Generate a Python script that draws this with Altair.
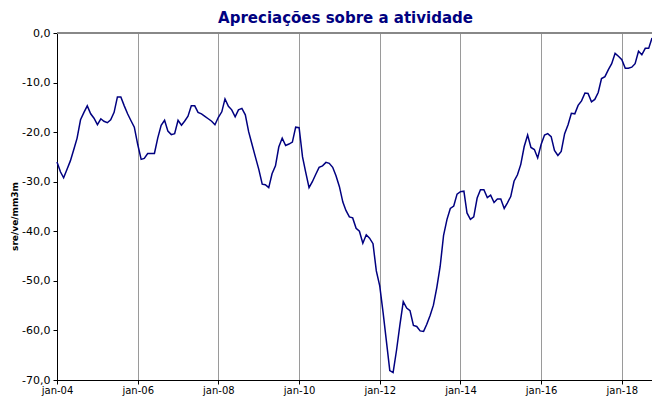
import altair as alt
import pandas as pd

# Monthly values, jan-2004 onwards (sre/ve/mm3m)
values = [
    -26.0, -28.0, -29.2, -27.5, -25.8, -23.5, -21.2, -17.5, -16.0, -14.7, -16.3, -17.2,   # 2004
    -18.5, -17.3, -17.8, -18.1, -17.5, -16.0, -12.9, -12.9, -14.7, -16.3, -17.7, -19.0,   # 2005
    -22.5, -25.5, -25.3, -24.3, -24.3, -24.3, -21.2, -18.6, -17.6, -19.8, -20.5, -20.3,   # 2006
    -17.6, -18.6, -17.8, -16.8, -14.7, -14.7, -16.0, -16.3, -16.8, -17.3, -17.8, -18.5,   # 2007
    -17.0, -15.9, -13.3, -14.8, -15.5, -16.9, -15.5, -15.2, -16.5, -19.9, -22.5, -25.0,   # 2008
    -27.5, -30.5, -30.6, -31.2, -28.4, -26.8, -23.0, -21.2, -22.7, -22.4, -22.0, -19.0,   # 2009
    -19.1, -25.0, -28.0, -31.2, -30.0, -28.5, -27.1, -26.8, -26.1, -26.3, -27.1, -28.8,   # 2010
    -31.0, -34.1, -35.8, -37.1, -37.3, -39.4, -40.0, -42.4, -40.7, -41.4, -42.5, -48.0,   # 2011
    -51.0, -56.5, -62.1, -68.1, -68.5, -64.0, -59.0, -54.2, -55.5, -56.0, -59.0, -59.2,   # 2012
    -60.1, -60.2, -58.8, -57.0, -54.9, -51.3, -47.1, -40.8, -37.6, -35.4, -34.9, -32.5,   # 2013
    -32.0, -31.9, -36.3, -37.6, -37.1, -33.3, -31.6, -31.6, -33.2, -32.7, -34.2, -33.5,   # 2014
    -33.5, -35.4, -34.3, -33.0, -29.9, -28.6, -26.5, -22.9, -20.6, -23.1, -23.5, -25.2,   # 2015
    -22.5, -20.6, -20.3, -20.9, -23.7, -24.7, -23.9, -20.3, -18.5, -16.2, -16.3, -14.6,   # 2016
    -13.7, -12.1, -12.2, -13.9, -13.4, -12.0, -9.2, -8.8, -7.4, -6.2, -4.1, -4.7,         # 2017
    -5.4, -7.1, -7.1, -6.9, -6.2, -3.7, -4.4, -3.1, -3.1, -1.0,                           # 2018
]
dates = pd.date_range("2004-01-01", periods=len(values), freq="MS").strftime("%Y-%m-%d").tolist()
tick_years = [2004, 2006, 2008, 2010, 2012, 2014, 2016, 2018]
y_ticks = [0, -10, -20, -30, -40, -50, -60, -70]

df = pd.DataFrame({"data": dates, "valor": values})

W, H = 595, 347

x_enc = alt.X(
    "data:T",
    scale=alt.Scale(domain=[dates[0], dates[-1]]),
    axis=alt.Axis(
        title=None,
        values=[alt.DateTime(year=y, month=1, date=1) for y in tick_years],
        labelExpr="'jan-' + timeFormat(datum.value, '%y')",
        grid=True,
        gridColor="#9a9a9a",
        gridWidth=1,
        domainColor="#000000",
        domainWidth=1,
        tickColor="#000000",
        tickSize=4,
        labelFont="DejaVu Sans",
        labelFontSize=10,
        labelColor="#000000",
        labelPadding=1,
        labelFlush=False,
        labelOverlap=False,
    ),
)

y_enc = alt.Y(
    "valor:Q",
    scale=alt.Scale(domain=[-70, 0], nice=False, zero=False),
    axis=alt.Axis(
        title="sre/ve/mm3m",
        titleFont="DejaVu Sans",
        titleFontSize=9,
        titleFontWeight="bold",
        titleColor="#000000",
        titleX=-43,
        titleY=183,
        titleAngle=270,
        titleAlign="center",
        titleBaseline="middle",
        values=y_ticks,
        labelExpr="(datum.value < 0 ? '-' : '') + replace(format(abs(datum.value), '.1f'), '.', ',')",
        grid=False,
        domainColor="#000000",
        domainWidth=1,
        tickColor="#000000",
        tickSize=4,
        labelFont="DejaVu Sans",
        labelFontSize=11,
        labelColor="#000000",
        labelPadding=3,
        labelFlush=False,
    ),
)

line = alt.Chart(df).mark_line(color="#000080", strokeWidth=1.5).encode(x=x_enc, y=y_enc)

top_border = alt.Chart(alt.Data(values=[{}])).mark_rule(color="#888888", strokeWidth=2).encode(
    x=alt.value(0), x2=alt.value(W), y=alt.value(0)
)

chart = (
    alt.layer(line, top_border)
    .properties(
        width=W,
        height=H,
        title=alt.TitleParams(
            "Apreciações sobre a atividade",
            font="DejaVu Sans",
            fontSize=15,
            fontWeight="bold",
            color="#000080",
            anchor="middle",
            frame="group",
            baseline="alphabetic",
            offset=8,
            dx=-9,
            dy=19,
        ),
        autosize=alt.AutoSizeParams(type="none"),
        padding={"left": 49, "top": 25, "right": 0, "bottom": 17},
    )
    .configure_view(stroke=None)
    .configure(background="#ffffff")
)

chart.save("out.html", embed_options={"renderer": "svg", "actions": False})
